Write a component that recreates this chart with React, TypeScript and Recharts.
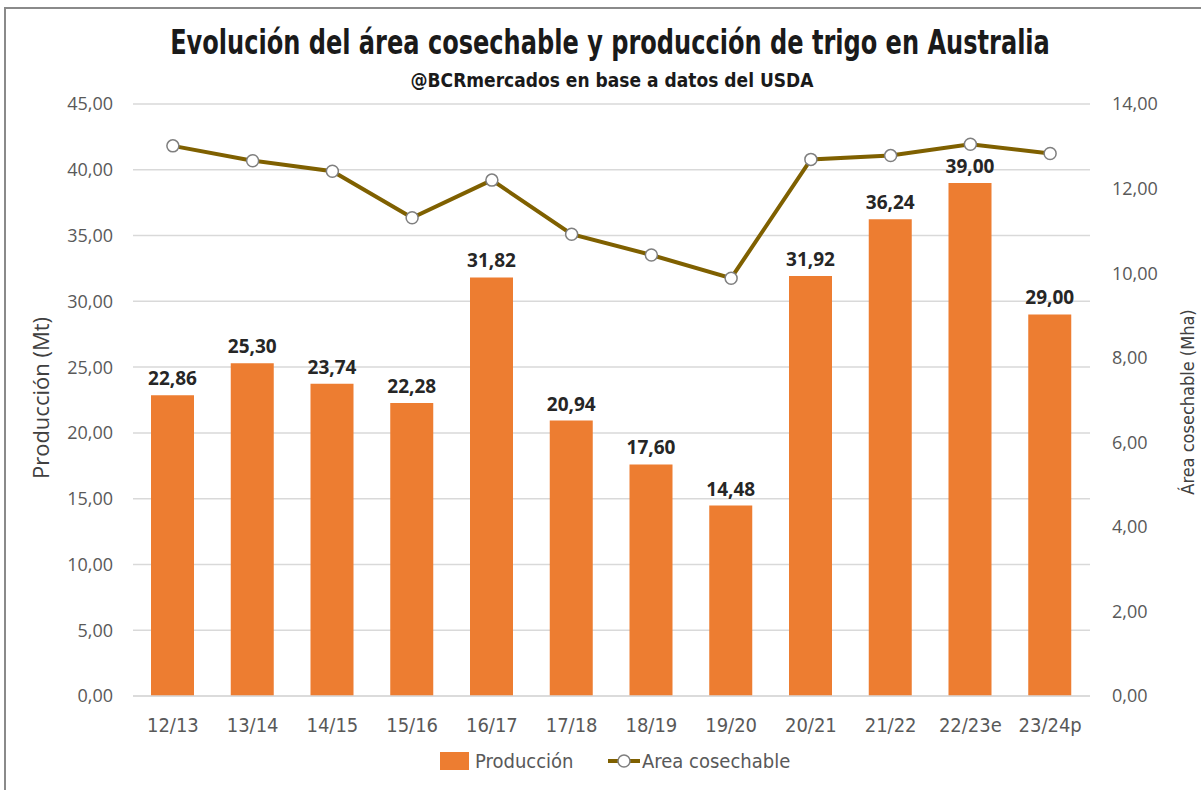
import {
  ComposedChart,
  Bar,
  Line,
  XAxis,
  YAxis,
  CartesianGrid,
  Legend,
  LabelList
} from 'recharts'

const campanias = ['12/13', '13/14', '14/15', '15/16', '16/17', '17/18', '18/19', '19/20', '20/21', '21/22', '22/23e', '23/24p']
const produccion = [22.86, 25.3, 23.74, 22.28, 31.82, 20.94, 17.6, 14.48, 31.92, 36.24, 39.0, 29.0]
const areaCosechable = [13.01, 12.66, 12.41, 11.31, 12.2, 10.92, 10.43, 9.88, 12.69, 12.78, 13.05, 12.83]
const ticksProduccion = [0, 5, 10, 15, 20, 25, 30, 35, 40, 45]
const ticksArea = [0, 2, 4, 6, 8, 10, 12, 14]

const data = campanias.map((c, i) => ({
  campania: c,
  produccion: produccion[i],
  area: areaCosechable[i]
}))

const fmt = (v: number) => v.toFixed(2).replace('.', ',')

const FUENTE = '"Open Sans", sans-serif'
const NARROW = '"DejaVu Sans Condensed", "DejaVu Sans", sans-serif'
const NARANJA = '#ED7D31'
const OLIVA = '#7F6000'

// leyenda en svg para controlar posiciones
function Leyenda() {
  return (
    <div style={{ height: 30, display: 'flex', justifyContent: 'center' }}>
      <svg width={370} height={30} style={{ marginLeft: 50 }}>
        <rect x={0} y={6} width={29} height={18} fill={NARANJA} />
        <text x={35} y={22} fontFamily={NARROW} fontSize={20} fill="#595959">
          Producción
        </text>
        <line x1={168} y1={15} x2={200} y2={15} stroke={OLIVA} strokeWidth={4} />
        <circle cx={184} cy={15} r={6} fill="#fff" stroke="#7f7f7f" strokeWidth={1.5} />
        <text x={202} y={22} fontFamily={NARROW} fontSize={20} fill="#595959">
          Area cosechable
        </text>
      </svg>
    </div>
  )
}

export default function App() {
  return (
    <div
      style={{
        position: 'absolute',
        left: 0,
        top: 0,
        width: 1201,
        height: 790,
        background: '#fff',
        overflow: 'hidden'
      }}
    >
      <div style={{ position: 'absolute', left: 4, top: 7, width: 1300, height: 900, borderLeft: '2px solid #8a8a8a', borderTop: '2px solid #8a8a8a' }} />
      <svg style={{ position: 'absolute', left: 0, top: 0 }} width={1201} height={100}>
        <text
          transform="translate(610,54) scale(0.787,1)"
          textAnchor="middle"
          fontFamily={NARROW}
          fontWeight="bold"
          fontSize={34}
          fill="#1a1a1a"
        >
          Evolución del área cosechable y producción de trigo en Australia
        </text>
        <text
          transform="translate(612,87) scale(0.95,1)"
          textAnchor="middle"
          fontFamily={NARROW}
          fontWeight="bold"
          fontSize={20}
          fill="#1a1a1a"
        >
          @BCRmercados en base a datos del USDA
        </text>
      </svg>
      <div
        style={{
          position: 'absolute',
          left: 40,
          top: 398,
          transform: 'translate(-50%, -50%) rotate(-90deg)',
          whiteSpace: 'nowrap',
          fontFamily: FUENTE,
          fontSize: 22,
          color: '#404040'
        }}
      >
        Producción (Mt)
      </div>
      <div
        style={{
          position: 'absolute',
          left: 1187,
          top: 402,
          transform: 'translate(-50%, -50%) rotate(-90deg)',
          whiteSpace: 'nowrap',
          fontFamily: NARROW,
          fontSize: 18,
          color: '#404040'
        }}
      >
        Área cosechable (Mha)
      </div>
      <div style={{ position: 'absolute', left: 0, top: 0 }}>
        <ComposedChart
          width={1201}
          height={790}
          data={data}
          margin={{ top: 104, right: 1, bottom: 14, left: 0 }}
        >
          <CartesianGrid vertical={false} stroke="#d9d9d9" strokeWidth={1.5} />
          <XAxis
            dataKey="campania"
            height={50}
            tickLine={false}
            axisLine={{ stroke: '#d9d9d9', strokeWidth: 1.5 }}
            tickMargin={16}
            interval={0}
            tick={{ fill: '#595959', fontSize: 20, fontFamily: NARROW }}
          />
          <YAxis
            width={133}
            domain={[0, 45]}
            ticks={ticksProduccion}
            tickFormatter={fmt}
            axisLine={false}
            tickLine={false}
            tickMargin={14}
            tick={{ fill: '#595959', fontSize: 18, fontFamily: FUENTE }}
          />
          <YAxis
            yAxisId="right"
            orientation="right"
            width={110}
            domain={[0, 14]}
            ticks={ticksArea}
            tickFormatter={fmt}
            axisLine={false}
            tickLine={false}
            tickMargin={16}
            tick={{ fill: '#595959', fontSize: 18, fontFamily: FUENTE }}
          />
          <Legend verticalAlign="bottom" height={30} content={() => <Leyenda />} />
          <Bar dataKey="produccion" name="Producción" fill={NARANJA} barSize={43} isAnimationActive={false}>
            <LabelList
              dataKey="produccion"
              position="top"
              offset={10}
              formatter={(v: number) => fmt(v)}
              fill="#262626"
              fontSize={19}
              fontWeight="bold"
              fontFamily={FUENTE}
            />
          </Bar>
          <Line
            yAxisId="right"
            dataKey="area"
            name="Area cosechable"
            stroke={OLIVA}
            strokeWidth={4}
            dot={{ r: 6, fill: '#fff', stroke: '#7f7f7f', strokeWidth: 1.5 }}
            isAnimationActive={false}
          />
        </ComposedChart>
      </div>
    </div>
  )
}
